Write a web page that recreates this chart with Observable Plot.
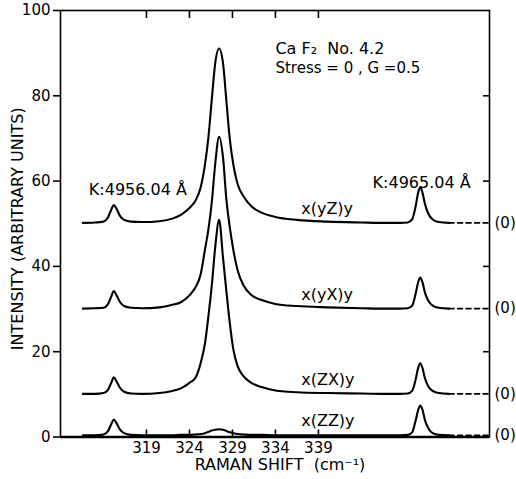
<!DOCTYPE html>
<html>
<head>
<meta charset="utf-8">
<script src="https://cdn.jsdelivr.net/npm/d3@7"></script>
<script src="https://cdn.jsdelivr.net/npm/@observablehq/plot@0.6"></script>
<style>
  html, body { margin: 0; padding: 0; background: #fff; }
  #chart svg { display: block; }
</style>
</head>
<body>
<div id="chart"></div>
<script>
// Raman shift sampling positions (cm^-1), shared by all four spectra
const shift = [311.6, 313.0, 314.0, 314.5, 314.9, 315.2, 315.5, 315.9, 316.4, 317.2,
  318.5, 320.5, 322.0, 323.0, 324.0, 324.7, 325.3, 325.8, 326.2, 326.6,
  327.0, 327.45, 327.9, 328.3, 328.7, 329.1, 329.6, 330.3, 331.2, 332.4,
  334.0, 336.5, 340.0, 344.0, 347.0, 348.5, 349.4, 349.9, 350.3, 350.6,
  350.85, 351.1, 351.4, 351.8, 352.3, 353.0, 354.2];

// Intensities (arbitrary units, offset spectra)
const yZ = [50.2, 50.3, 50.5, 51.4, 53.3, 54.4, 53.6, 51.9, 50.9, 50.5,
  50.4, 50.6, 51.2, 52.1, 53.7, 55.4, 58.5, 63.8, 70.2, 79.2,
  87.7, 91.1, 87.7, 78.7, 69.7, 63.9, 59.3, 56.4, 54.1, 52.6,
  51.6, 50.9, 50.5, 50.3, 50.2, 50.2, 50.3, 51.0, 54.0, 57.3,
  58.6, 57.3, 54.6, 52.3, 51.0, 50.4, 50.2];
const yX = [30.1, 30.2, 30.3, 31.1, 32.9, 34.2, 33.3, 31.7, 30.7, 30.3,
  30.2, 30.4, 31.0, 31.6, 33.2, 35.1, 38.1, 43.9, 48.6, 55.1,
  64.1, 70.4, 65.6, 55.6, 49.1, 43.9, 39.1, 35.5, 33.3, 32.1,
  31.2, 30.7, 30.4, 30.2, 30.1, 30.1, 30.2, 30.8, 33.5, 36.3,
  37.4, 36.3, 33.8, 31.9, 30.8, 30.3, 30.1];
const zX = [10.1, 10.1, 10.3, 11.0, 12.7, 14.0, 13.1, 11.6, 10.6, 10.2,
  10.1, 10.3, 10.8, 11.4, 12.7, 13.9, 17.3, 21.9, 28.2, 35.6,
  44.6, 50.9, 42.1, 34.1, 26.6, 20.6, 16.6, 14.2, 12.7, 11.7,
  10.9, 10.5, 10.3, 10.2, 10.1, 10.1, 10.2, 10.8, 13.4, 16.2,
  17.3, 16.2, 13.7, 11.8, 10.8, 10.3, 10.1];
const zZ = [0.4, 0.4, 0.6, 1.3, 3.0, 4.1, 3.3, 1.8, 0.9, 0.5,
  0.4, 0.4, 0.4, 0.5, 0.5, 0.6, 0.7, 0.9, 1.2, 1.5,
  1.7, 1.8, 1.7, 1.4, 1.1, 0.9, 0.7, 0.6, 0.5, 0.5,
  0.4, 0.4, 0.4, 0.4, 0.4, 0.4, 0.5, 1.1, 3.8, 6.3,
  7.4, 6.4, 3.9, 2.0, 0.9, 0.5, 0.4];

// Scattering geometries and the zero level of each offset spectrum
const geometries = ["x(yZ)y", "x(yX)y", "x(ZX)y", "x(ZZ)y"];
const zeroLevels = [50.2, 30.1, 10.1, 0.4];
const spectra = [yZ, yX, zX, zZ];

// Axis ticks
const xTicks = [319, 324, 329, 334, 339];
const yTicks = [0, 20, 40, 60, 80, 100];
const xDomain = [309, 358.9];

// Build long-format rows for the line marks
const rows = geometries.flatMap((g, i) =>
  shift.map((s, j) => ({geometry: g, shift: s, intensity: spectra[i][j]})));
const tails = geometries.flatMap((g, i) => [
  {geometry: g, shift: shift[shift.length - 1], intensity: zeroLevels[i]},
  {geometry: g, shift: xDomain[1], intensity: zeroLevels[i]}
]);
const labels = geometries.map((g, i) => ({geometry: g, zero: zeroLevels[i]}));

const font = "DejaVu Sans, Liberation Sans, sans-serif";

const chart = Plot.plot({
  width: 516,
  height: 479,
  marginLeft: 60,
  marginRight: 27,
  marginTop: 10,
  marginBottom: 42.5,
  x: {domain: xDomain, label: null},
  y: {domain: [0, 100], label: null},
  style: {fontFamily: font, fontSize: "15px", color: "black", background: "white", overflow: "visible"},
  marks: [
    Plot.frame({stroke: "black", strokeWidth: 1.6}),
    Plot.ruleY([0], {stroke: "black", strokeWidth: 2.6}),
    Plot.axisY({anchor: "left", ticks: yTicks, tickSize: 7, tickPadding: 3, strokeWidth: 1.6, fontSize: 15}),
    Plot.axisY({anchor: "right", ticks: yTicks.slice(1, -1), tickSize: -7, tickFormat: () => "", strokeWidth: 1.6}),
    Plot.axisX({anchor: "bottom", ticks: xTicks, tickSize: -7, tickPadding: 12, strokeWidth: 1.6, fontSize: 15}),
    Plot.axisX({anchor: "top", ticks: xTicks, tickSize: -7, tickFormat: () => "", strokeWidth: 1.6}),
    Plot.line(rows, {x: "shift", y: "intensity", z: "geometry", curve: "monotone-x", stroke: "black", strokeWidth: 2.1}),
    Plot.line(tails, {x: "shift", y: "intensity", z: "geometry", stroke: "black", strokeWidth: 1.6, strokeDasharray: "5,3.5"}),
    Plot.text(labels, {x: 337, y: "zero", text: "geometry", textAnchor: "start", dy: -14, fontSize: 16}),
    Plot.text(labels, {y: "zero", text: () => "(0)", frameAnchor: "right", textAnchor: "start", lineAnchor: "middle", dx: 5, fontSize: 15}),
    Plot.text(["K:4956.04 Å"], {x: 312.3, y: 57.9, textAnchor: "start", fontSize: 16}),
    Plot.text(["K:4965.04 Å"], {x: 345.3, y: 59.7, textAnchor: "start", fontSize: 16}),
    Plot.text(["Ca F₂  No. 4.2"], {x: 334, y: 91.1, textAnchor: "start", fontSize: 16}),
    Plot.text(["Stress = 0 , G =0.5"], {x: 334, y: 86.4, textAnchor: "start", fontSize: 15}),
    Plot.text(["RAMAN SHIFT  (cm⁻¹)"], {frameAnchor: "bottom", lineAnchor: "middle", dx: 5, dy: 28, fontSize: 16}),
    Plot.text(["INTENSITY (ARBITRARY UNITS)"], {frameAnchor: "left", textAnchor: "middle", lineAnchor: "middle", rotate: -90, dx: -43, dy: 5, fontSize: 16})
  ]
});

document.getElementById("chart").appendChild(chart);
</script>
</body>
</html>
